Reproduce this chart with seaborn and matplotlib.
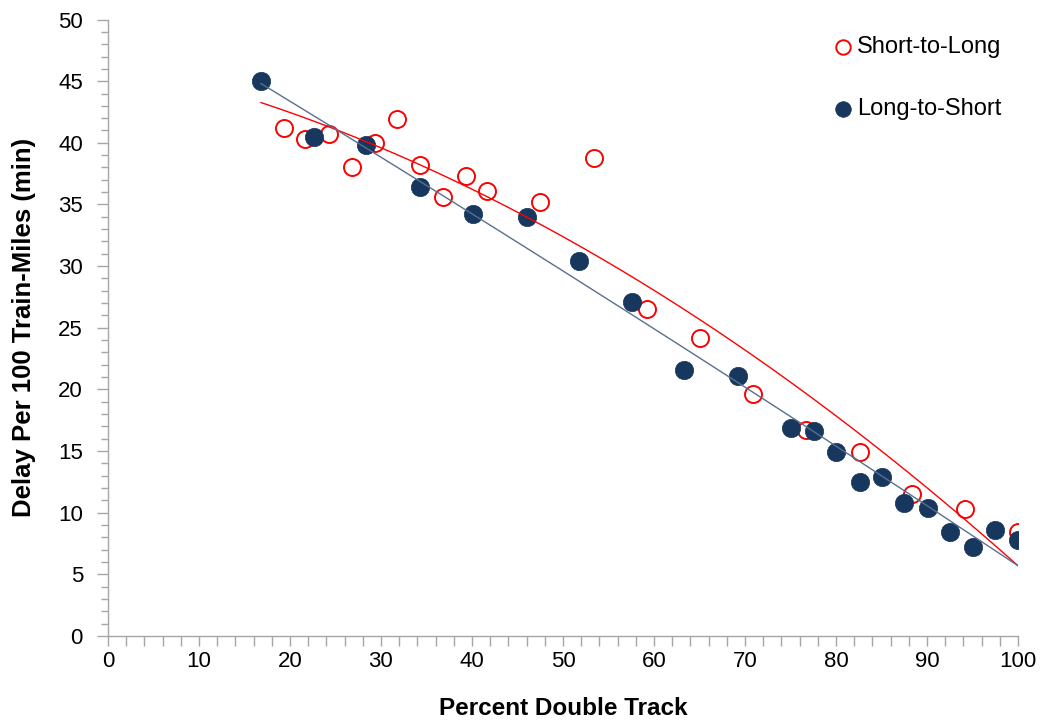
import numpy as np
import pandas as pd
import matplotlib
matplotlib.use('Agg')
import matplotlib.pyplot as plt
from matplotlib.ticker import MultipleLocator
import seaborn as sns

# Data
short_to_long_x = [19.3, 21.7, 24.3, 26.8, 29.3, 31.8, 34.3, 36.8, 39.3, 41.7,
                   47.5, 53.4, 59.2, 65.1, 70.9, 76.7, 82.6, 88.4, 94.2, 100.0]
short_to_long_y = [41.2, 40.3, 40.7, 38.0, 40.0, 41.9, 38.2, 35.6, 37.3, 36.1,
                   35.2, 38.8, 26.5, 24.2, 19.6, 16.7, 14.95, 11.5, 10.3, 8.4]

long_to_short_x = [16.8, 22.6, 28.4, 34.3, 40.1, 46.0, 51.8, 57.6, 63.3, 69.2, 75.1,
                   77.6, 80.0, 82.6, 85.1, 87.5, 90.1, 92.5, 95.1, 97.5, 100.0]
long_to_short_y = [45.0, 40.5, 39.8, 36.4, 34.2, 34.0, 30.4, 27.1, 21.6, 21.1, 16.9,
                   16.6, 14.9, 12.5, 12.9, 10.8, 10.4, 8.4, 7.2, 8.6, 7.8]

# Short-to-Long trendline as shown in the chart (2nd order poly, highest power first)
short_to_long_trend = [-0.002475, -0.1625, 46.7]

RED = "#FF0000"
NAVY = "#17375E"
NAVY_LINE = "#5A6F90"
AXIS_GRAY = "#A6A6A6"

sns.set_theme(style="white", rc={"text.color": "black", "axes.labelcolor": "black"})
plt.rcParams['font.family'] = ['Liberation Sans', 'DejaVu Sans']

s2l = pd.DataFrame({"x": short_to_long_x, "y": short_to_long_y})
l2s = pd.DataFrame({"x": long_to_short_x, "y": long_to_short_y})

x_lo = min(min(short_to_long_x), min(long_to_short_x))
x_hi = max(max(short_to_long_x), max(long_to_short_x))
xs = np.linspace(x_lo, x_hi, 200)

trend_s2l = pd.DataFrame({"x": xs, "y": np.polyval(short_to_long_trend, xs)})
# Long-to-Short: least squares 2nd order fit
trend_l2s = pd.DataFrame({"x": xs, "y": np.polyval(np.polyfit(l2s["x"], l2s["y"], 2), xs)})

fig = plt.figure(figsize=(10.43, 7.23), dpi=100)
ax = fig.add_axes([0.1035, 0.1203, 0.8725, 0.8527])

# markers
sns.scatterplot(data=s2l, x="x", y="y", ax=ax, marker="o", s=150,
                facecolors="white", edgecolor=RED, linewidth=1.4,
                label="Short-to-Long", zorder=2)
sns.scatterplot(data=l2s, x="x", y="y", ax=ax, marker="o", s=175,
                color=NAVY, edgecolor=NAVY, linewidth=0.5,
                label="Long-to-Short", zorder=3)

# trendlines
sns.lineplot(data=trend_s2l, x="x", y="y", ax=ax,
             color=RED, linewidth=1.0, zorder=4, legend=False)
sns.lineplot(data=trend_l2s, x="x", y="y", ax=ax,
             color=NAVY_LINE, linewidth=1.0, zorder=4, legend=False)

ax.set_xlim(0, 100)
ax.set_ylim(0, 50)
ax.xaxis.set_major_locator(MultipleLocator(10))
ax.xaxis.set_minor_locator(MultipleLocator(2))
ax.yaxis.set_major_locator(MultipleLocator(5))
ax.yaxis.set_minor_locator(MultipleLocator(1))

for side in ["top", "right"]:
    ax.spines[side].set_visible(False)
for side in ["left", "bottom"]:
    ax.spines[side].set_color(AXIS_GRAY)
    ax.spines[side].set_linewidth(1.0)

ax.tick_params(axis="both", which="both", direction="out", color=AXIS_GRAY,
               width=1.0, labelsize=16, labelcolor="black",
               bottom=True, left=True)
ax.tick_params(axis="x", which="major", length=7, pad=4)
ax.tick_params(axis="x", which="minor", length=7)
ax.tick_params(axis="y", which="major", length=8, pad=10)
ax.tick_params(axis="y", which="minor", length=5)

ax.set_xlabel("Percent Double Track", fontsize=17.5, fontweight="bold", labelpad=18)
ax.set_ylabel("Delay Per 100 Train-Miles (min)", fontsize=18.5, fontweight="bold", labelpad=16)

handles, labels = ax.get_legend_handles_labels()
ax.legend(handles[:2], labels[:2], loc="upper right", bbox_to_anchor=(1.0, 1.0),
          frameon=False, fontsize=17, markerscale=0.85, labelspacing=1.7,
          handletextpad=0.1, handlelength=1.0, borderaxespad=0.3,
          labelcolor="black")

fig.savefig("out.png", dpi=100)
